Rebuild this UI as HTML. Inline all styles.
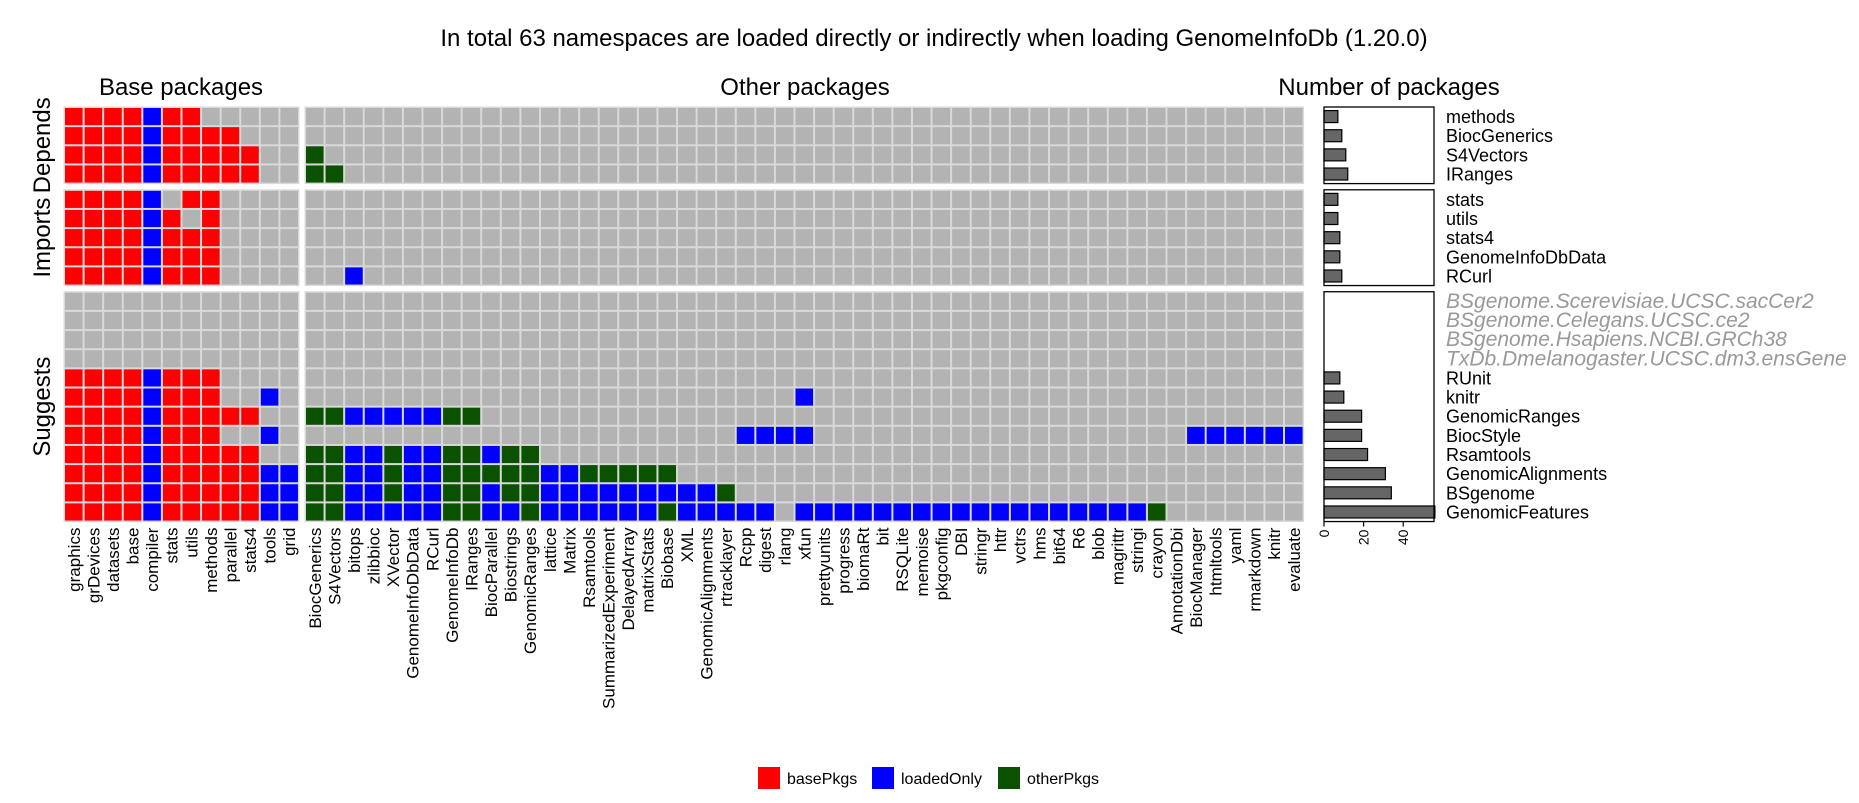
<!DOCTYPE html>
<html><head><meta charset="utf-8">
<style>
html,body{margin:0;padding:0;background:#fff;}
svg{display:block;font-family:"Liberation Sans",Arial,sans-serif;}
</style></head>
<body>
<svg id="chart" width="1859" height="803" viewBox="0 0 1859 803" xmlns="http://www.w3.org/2000/svg">
<text x="934" y="46" font-size="24" text-anchor="middle">In total 63 namespaces are loaded directly or indirectly when loading GenomeInfoDb (1.20.0)</text>
<text x="181" y="95" font-size="24" text-anchor="middle">Base packages</text>
<text x="805" y="95" font-size="24" text-anchor="middle">Other packages</text>
<text x="1389" y="95" font-size="24" text-anchor="middle">Number of packages</text>
<g id="cells"></g>
<g id="bars"></g>
<g id="labels"></g>
<g>
<rect x="758" y="767" width="22" height="22" fill="#ff0000"/>
<text x="787" y="784" font-size="16">basePkgs</text>
<rect x="872" y="767" width="22" height="22" fill="#0000ff"/>
<text x="901" y="784" font-size="16">loadedOnly</text>
<rect x="998" y="767" width="22" height="22" fill="#0a5200"/>
<text x="1027" y="784" font-size="16">otherPkgs</text>
</g>
</svg>
<script>
const baseCols = ["graphics","grDevices","datasets","base","compiler","stats","utils","methods","parallel","stats4","tools","grid"];
const otherCols = ["BiocGenerics","S4Vectors","bitops","zlibbioc","XVector","GenomeInfoDbData","RCurl","GenomeInfoDb","IRanges","BiocParallel","Biostrings","GenomicRanges","lattice","Matrix","Rsamtools","SummarizedExperiment","DelayedArray","matrixStats","Biobase","XML","GenomicAlignments","rtracklayer","Rcpp","digest","rlang","xfun","prettyunits","progress","biomaRt","bit","RSQLite","memoise","pkgconfig","DBI","stringr","httr","vctrs","hms","bit64","R6","blob","magrittr","stringi","crayon","AnnotationDbi","BiocManager","htmltools","yaml","rmarkdown","knitr","evaluate"];
const sections = ["Depends","Imports","Suggests"];
const rowNames = [
 ["methods","BiocGenerics","S4Vectors","IRanges"],
 ["stats","utils","stats4","GenomeInfoDbData","RCurl"],
 ["BSgenome.Scerevisiae.UCSC.sacCer2","BSgenome.Celegans.UCSC.ce2","BSgenome.Hsapiens.NCBI.GRCh38","TxDb.Dmelanogaster.UCSC.dm3.ensGene","RUnit","knitr","GenomicRanges","BiocStyle","Rsamtools","GenomicAlignments","BSgenome","GenomicFeatures"]
];
const missingRows = ["BSgenome.Scerevisiae.UCSC.sacCer2","BSgenome.Celegans.UCSC.ce2","BSgenome.Hsapiens.NCBI.GRCh38","TxDb.Dmelanogaster.UCSC.dm3.ensGene"];
const baseCells = [
 ["rrrrbrr.....","rrrrbrrrr...","rrrrbrrrrr..","rrrrbrrrrr.."],
 ["rrrrb.rr....","rrrrbr.r....","rrrrbrrr....","rrrrbrrr....","rrrrbrrr...."],
 ["............","............","............","............","rrrrbrrr....","rrrrbrrr..b.","rrrrbrrrrr..","rrrrbrrr..b.","rrrrbrrrrr..","rrrrbrrrrrbb","rrrrbrrrrrbb","rrrrbrrrrrbb"]
];
const otherCells = [
 ["","","g","gg"],
 ["","","","","..b"],
 ["","","","","",".........................b","ggbbbbbgg","......................bbbb...................bbbbbb","ggbbgbbggbgg","ggbbgbbgggggbbggggg","ggbbgbbggbggbbbbbbbbbg","ggbbbbbggbbgbbbbbbgbbbbb.bbbbbbbbbbbbbbbbbbg"]
];
const barCounts = [[7,9,11,12],[7,7,8,8,9],[0,0,0,0,8,10,19,19,22,31,34,56]];
const barTicks = [0,20,40];

const NS="http://www.w3.org/2000/svg";
const colors={r:"#ff0000",b:"#0000ff",g:"#0a5200",".":"#b3b3b3"};
const cw=19.58, rh=19.15, gap=6.2, top0=107;
const baseX0=64, otherX0=305, barX0=1324, barScale=1.98, barBoxR=1434;
function mk(tag,attrs,parent){const e=document.createElementNS(NS,tag);for(const k in attrs)e.setAttribute(k,attrs[k]);parent.appendChild(e);return e;}
function secTop(s){let y=top0;for(let i=0;i<s;i++)y+=rowNames[i].length*rh+gap;return y;}
function rowY(s,r){return secTop(s)+r*rh;}
function colX(panel,c){return (panel===0?baseX0:otherX0)+c*cw;}
function barX(v){return barX0+v*barScale;}

const cells=document.getElementById('cells'), bars=document.getElementById('bars'), labels=document.getElementById('labels');
sections.forEach((sec,s)=>{
  const y0=secTop(s), h=rowNames[s].length*rh;
  [[baseX0,baseCols.length],[otherX0,otherCols.length]].forEach(([x0,n],p)=>{
    const bg=mk('rect',{x:x0-0.5,y:y0-0.5,width:n*cw+1,height:h+1,fill:'#d9d9d9'},cells);
    
    
  });
  rowNames[s].forEach((rn,r)=>{
    const y=rowY(s,r);
    [[baseCols,baseCells],[otherCols,otherCells]].forEach(([cols,data],p)=>{
      const str=data[s][r];
      cols.forEach((cn,c)=>{
        const ch=str[c]||'.';
        const x=colX(p,c);
        const rc=mk('rect',{x:x+1,y:y+1,width:cw-2,height:rh-2,fill:colors[ch]},cells);
        
        
      });
    });
    const yc=y+rh/2;
    if(barCounts[s][r]>0){
      const b=mk('rect',{x:barX(0),y:yc-6,width:barX(barCounts[s][r])-barX(0),height:12,fill:'#666666',stroke:'#000','stroke-width':1.2},bars);
      
      
    }
    const miss=missingRows.includes(rn);
    const t=mk('text',{x:1446,y:yc+6.5,'font-size':miss?21:18,fill:miss?'#999999':'#000','font-style':miss?'italic':'normal'},labels);
    t.textContent=rn;
    
    
  });
  const box=mk('rect',{x:barX0,y:y0,width:barBoxR-barX0,height:h,fill:'none',stroke:'#000','stroke-width':1.3},bars);
  
  
  const st=mk('text',{x:0,y:0,'font-size':24,'text-anchor':'middle',transform:`translate(50,${y0+h/2}) rotate(-90)`},labels);
  st.textContent=sec;
  
  
});
const bottom=secTop(2)+rowNames[2].length*rh;
[[baseCols,0],[otherCols,1]].forEach(([cols,p])=>{
  cols.forEach((cn,c)=>{
    const cx=colX(p,c)+cw/2+6;
    const t=mk('text',{x:0,y:0,'font-size':17,'text-anchor':'end',transform:`translate(${cx},${bottom+6}) rotate(-90)`},labels);
    t.textContent=cn;
    
    
  });
});
barTicks.forEach(v=>{
  const x=barX(v);
  const tk=mk('line',{x1:x,x2:x,y1:bottom,y2:bottom+5,stroke:'#000','stroke-width':1.2},bars);
  
  
  const t=mk('text',{x:0,y:0,'font-size':14,'text-anchor':'end',transform:`translate(${x+5},${bottom+8}) rotate(-90)`},labels);
  t.textContent=v;
  
  
});
</script>
</body></html>
